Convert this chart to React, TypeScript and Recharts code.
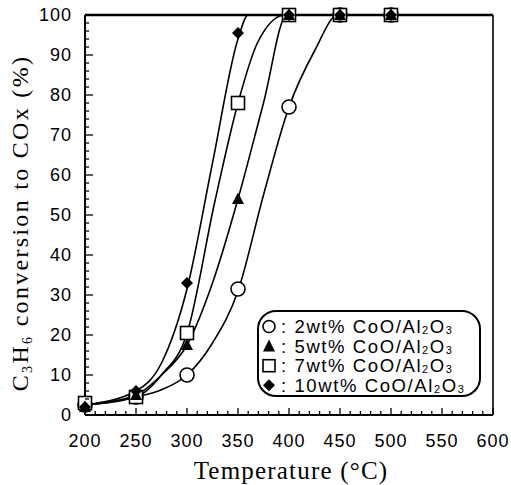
import { ComposedChart, Line, Scatter, XAxis, YAxis, ReferenceLine, Label } from 'recharts';

// measured points (markers)
const temps = [200, 250, 300, 350, 400, 450, 500];
const m2 = [2.5, 4.5, 10, 31.5, 77, 100, 100];
const m5 = [2, 5, 17.5, 54, 100, 100, 100];
const m7 = [3, 4.5, 20.5, 78, 100, 100, 100];
const m10 = [2, 6, 33, 95.5, 100, 100, 100];

// fitted curves: [temperature, conversion]
const c2 = [[200, 2.5], [250, 4.5], [275, 6.3], [300, 10], [325, 18], [350, 31], [375, 55], [400, 77], [425, 91], [448, 100], [500, 100]];
const c5 = [[200, 2.5], [250, 5], [275, 10], [300, 17.5], [325, 33], [350, 54], [375, 78], [398, 100], [500, 100]];
const c7 = [[200, 2.5], [250, 4.5], [275, 10], [300, 20.4], [327, 53], [350, 78], [369, 93], [396, 100], [500, 100]];
const c10 = [[200, 2.5], [250, 6], [275, 13], [300, 31.5], [325, 63], [350, 94], [360, 100], [500, 100]];

const xTicks = Array.from({ length: 41 }, (_, i) => 200 + i * 10);
const yTicks = Array.from({ length: 51 }, (_, i) => i * 2);

const toPts = (ys: number[]) => temps.map((t, i) => ({ x: t, y: ys[i] }));
const toCurve = (c: number[][]) => c.map(([x, y]) => ({ x, y }));

const tickFont = { fontFamily: 'Liberation Sans', fontSize: 18, fill: '#000' };
const serif = 'Liberation Serif';

const XTick = (props: any) => {
  const { x, y, payload } = props;
  const major = payload.value % 50 === 0;
  return (
    <g>
      <line x1={x} x2={x} y1={y} y2={y - (major ? 7 : 4)} stroke="#000" strokeWidth={1.3} />
      {major && (
        <text x={x} y={y + 32} textAnchor="middle" letterSpacing={1} {...tickFont}>
          {payload.value}
        </text>
      )}
    </g>
  );
};

const YTick = (props: any) => {
  const { x, y, payload } = props;
  const major = payload.value % 10 === 0;
  return (
    <g>
      <line x1={x} x2={x + (major ? 8 : 4)} y1={y} y2={y} stroke="#000" strokeWidth={1.3} />
      {major && (
        <text x={x - 13} y={y} dy="0.35em" textAnchor="end" letterSpacing={1} {...tickFont}>
          {payload.value}
        </text>
      )}
    </g>
  );
};

const Circ = ({ cx, cy }: any) => <circle cx={cx} cy={cy} r={7} fill="#fff" stroke="#000" strokeWidth={1.6} />;
const Sq = ({ cx, cy }: any) => <rect x={cx - 6.5} y={cy - 6.5} width={13} height={13} fill="#fff" stroke="#000" strokeWidth={1.6} />;
const Tri = ({ cx, cy }: any) => <path d={`M${cx},${cy - 6.5} L${cx + 6},${cy + 5} L${cx - 6},${cy + 5} Z`} fill="#000" />;
const Dia = ({ cx, cy }: any) => <path d={`M${cx},${cy - 6} L${cx + 6},${cy} L${cx},${cy + 6} L${cx - 6},${cy} Z`} fill="#000" />;

const legendRows = [
  { label: '2', mark: <circle cx={7} cy={7} r={6} fill="#fff" stroke="#000" strokeWidth={1.6} /> },
  { label: '5', mark: <path d="M7,0.5 L13,12.5 L1,12.5 Z" fill="#000" /> },
  { label: '7', mark: <rect x={1} y={1} width={12} height={12} fill="#fff" stroke="#000" strokeWidth={1.6} /> },
  { label: '10', mark: <path d="M7,1 L13,7 L7,13 L1,7 Z" fill="#000" /> },
];

// legend drawn as svg text so subscripts stay inside their row
const LegendBox = () => (
  <svg width={224} height={87} style={{ position: 'absolute', left: 257, top: 310 }}>
    <rect x={1} y={1} width={222} height={85} rx={18} ry={18} fill="#fff" stroke="#000" strokeWidth={2} />
    {legendRows.map((r, i) => {
      const cy = 16.5 + i * 19.6;
      return (
        <g key={r.label}>
          <g transform={`translate(5, ${cy - 7})`}>{r.mark}</g>
          <text x={24} y={cy + 6.5} fontFamily="Liberation Sans" fontSize={18.5} letterSpacing={1.6} fill="#000">
            : {r.label}wt% CoO/Al
            <tspan fontSize={11} dy={1}>2</tspan>
            <tspan dy={-1}>O</tspan>
            <tspan fontSize={11} dy={1}>3</tspan>
          </text>
        </g>
      );
    })}
  </svg>
);

export default function App() {
  return (
    <div style={{ position: 'absolute', left: 0, top: 0, width: 511, height: 485, background: '#fff' }}>
      <ComposedChart width={511} height={485} margin={{ top: 15, right: 18, bottom: 0, left: 0 }}>
        <XAxis
          type="number"
          dataKey="x"
          domain={[200, 600]}
          ticks={xTicks}
          interval={0}
          tick={<XTick />}
          tickSize={0}
          tickMargin={0}
          tickLine={false}
          axisLine={{ stroke: '#000', strokeWidth: 2 }}
          height={70}
        >
          <Label
            content={() => (
              <text x={291} y={479} textAnchor="middle" fontFamily={serif} fontSize={25} letterSpacing={1.2} fill="#000">
                Temperature (°C)
              </text>
            )}
          />
        </XAxis>
        <YAxis
          type="number"
          dataKey="y"
          domain={[0, 100]}
          ticks={yTicks}
          interval={0}
          tick={<YTick />}
          tickSize={0}
          tickMargin={0}
          tickLine={false}
          axisLine={{ stroke: '#000', strokeWidth: 2 }}
          width={85}
        >
          <Label
            content={() => (
              <text
                x={28}
                y={223}
                transform="rotate(-90 28 223)"
                textAnchor="middle"
                fontFamily={serif}
                fontSize={24}
                letterSpacing={2.3}
                fill="#000"
              >
                C<tspan fontSize={14} dy={4}>3</tspan>
                <tspan dy={-4}>H</tspan>
                <tspan fontSize={14} dy={4}>6</tspan>
                <tspan dy={-4}> conversion to COx (%)</tspan>
              </text>
            )}
          />
        </YAxis>

        <Line data={toCurve(c2)} dataKey="y" type="monotone" stroke="#000" strokeWidth={1.6} dot={false} isAnimationActive={false} />
        <Line data={toCurve(c5)} dataKey="y" type="monotone" stroke="#000" strokeWidth={1.6} dot={false} isAnimationActive={false} />
        <Line data={toCurve(c7)} dataKey="y" type="monotone" stroke="#000" strokeWidth={1.6} dot={false} isAnimationActive={false} />
        <Line data={toCurve(c10)} dataKey="y" type="monotone" stroke="#000" strokeWidth={1.6} dot={false} isAnimationActive={false} />

        <ReferenceLine y={100} stroke="#000" strokeWidth={2.5} />
        <ReferenceLine x={600} stroke="#000" strokeWidth={1.6} />

        <Scatter data={toPts(m2)} dataKey="y" shape={<Circ />} isAnimationActive={false} />
        <Scatter data={toPts(m7)} dataKey="y" shape={<Sq />} isAnimationActive={false} />
        <Scatter data={toPts(m5)} dataKey="y" shape={<Tri />} isAnimationActive={false} />
        <Scatter data={toPts(m10)} dataKey="y" shape={<Dia />} isAnimationActive={false} />
      </ComposedChart>
      <LegendBox />
    </div>
  );
}
